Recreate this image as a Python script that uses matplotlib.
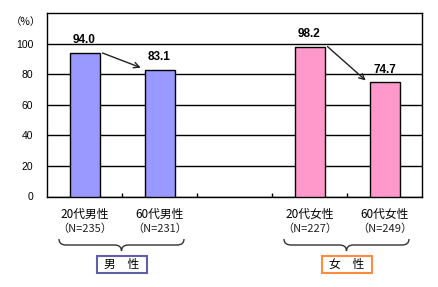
import numpy as np
import matplotlib
matplotlib.use("Agg")
import matplotlib.pyplot as plt
from matplotlib.path import Path
from matplotlib.patches import PathPatch, Rectangle
from matplotlib.transforms import IdentityTransform

plt.rcParams['font.family'] = ['Noto Sans CJK JP', 'DejaVu Sans']

# データ
groups = ["20代男性", "60代男性", "", "20代女性", "60代女性"]
counts = ["（N=235）", "（N=231）", "", "（N=227）", "（N=249）"]
values = [94.0, 83.1, None, 98.2, 74.7]
bar_colors = ["#9999FF", "#9999FF", None, "#FF99CC", "#FF99CC"]
sex_labels = ["男　性", "女　性"]
sex_members = [(0, 1), (3, 4)]
sex_edge = ["#6060A8", "#FF8C40"]
yticks = [0, 20, 40, 60, 80, 100]

W, H = 438, 287
fig = plt.figure(figsize=(W / 100, H / 100), dpi=100)
ax = fig.add_axes([47 / W, (H - 196.5) / H, 375 / W, 183.2 / H])

x = np.arange(len(groups))
for i, v in enumerate(values):
    if v is None:
        continue
    ax.bar(x[i], v, width=0.4, color=bar_colors[i], edgecolor='black', linewidth=1, zorder=3)
    ax.annotate(f"{v:.1f}", xy=(x[i], v), xytext=(0, 5), textcoords='offset points',
                ha='center', va='bottom', fontsize=8.5, fontweight='bold',
                family='Liberation Sans', zorder=4)

# 矢印 (20代 -> 60代)
for a, b in sex_members:
    ax.annotate("", xy=(x[b] - 0.25, values[b] + 1.3), xytext=(x[a] + 0.24, values[a]),
                arrowprops=dict(arrowstyle='->', color='#222222', lw=1,
                                shrinkA=0, shrinkB=0, mutation_scale=10), zorder=5)

ax.set_xlim(-0.5, len(groups) - 0.5)
ax.set_ylim(0, 120)
ax.set_yticks(yticks)
ax.set_yticklabels([str(t) for t in yticks], family='Liberation Sans', fontsize=7.5)
ax.tick_params(axis='y', length=0, pad=10)
ax.set_xticks(x[:-1] + 0.5)
ax.set_xticklabels([])
ax.tick_params(axis='x', direction='in', length=3, width=1, color='black')
ax.grid(axis='y', color='black', linewidth=1, zorder=1)
ax.set_axisbelow(True)
for s in ax.spines.values():
    s.set_linewidth(1)
    s.set_color('black')

fig.text(26 / W, (H - 22) / H, "（%）", ha='center', va='center', fontsize=7.5)

# カテゴリラベル
xt = ax.get_xaxis_transform()
for i in range(len(groups)):
    if not groups[i]:
        continue
    ax.annotate(groups[i], xy=(x[i], 0), xycoords=xt, xytext=(0, -17.5),
                textcoords='offset pixels', ha='center', va='center', fontsize=8.5)
    ax.annotate(counts[i], xy=(x[i], 0), xycoords=xt, xytext=(0, -32.5),
                textcoords='offset pixels', ha='center', va='center', fontsize=8,
                color='#222222')

# 波括弧と性別ボックス
def px(xd):
    return ax.transData.transform((xd, 0))[0]

y_top, y_mid, y_tip = H - 239, H - 245, H - 251
r = 7
for (a, b), lab, ec in zip(sex_members, sex_labels, sex_edge):
    x0, x1 = px(x[a]) - 25.5, px(x[b]) + 24.5
    xc = (x0 + x1) / 2
    verts = [(x0, y_top), (x0, y_mid), (x0 + r, y_mid),
             (xc - r, y_mid), (xc, y_mid), (xc, y_tip),
             (xc, y_mid), (xc + r, y_mid),
             (x1 - r, y_mid), (x1, y_mid), (x1, y_top)]
    codes = [Path.MOVETO, Path.CURVE3, Path.CURVE3,
             Path.LINETO, Path.CURVE3, Path.CURVE3,
             Path.CURVE3, Path.CURVE3,
             Path.LINETO, Path.CURVE3, Path.CURVE3]
    fig.add_artist(PathPatch(Path(verts, codes), transform=IdentityTransform(),
                             facecolor='none', edgecolor='#333333', lw=1))
    bw, bh = 50, 17
    fig.add_artist(Rectangle((xc - bw / 2, H - 273), bw, bh, transform=IdentityTransform(),
                             facecolor='white', edgecolor=ec, lw=1.5))
    fig.text(xc / W, (H - 264.5) / H, lab, ha='center', va='center', fontsize=8.5)

fig.savefig("out.png", dpi=100, facecolor='white')
